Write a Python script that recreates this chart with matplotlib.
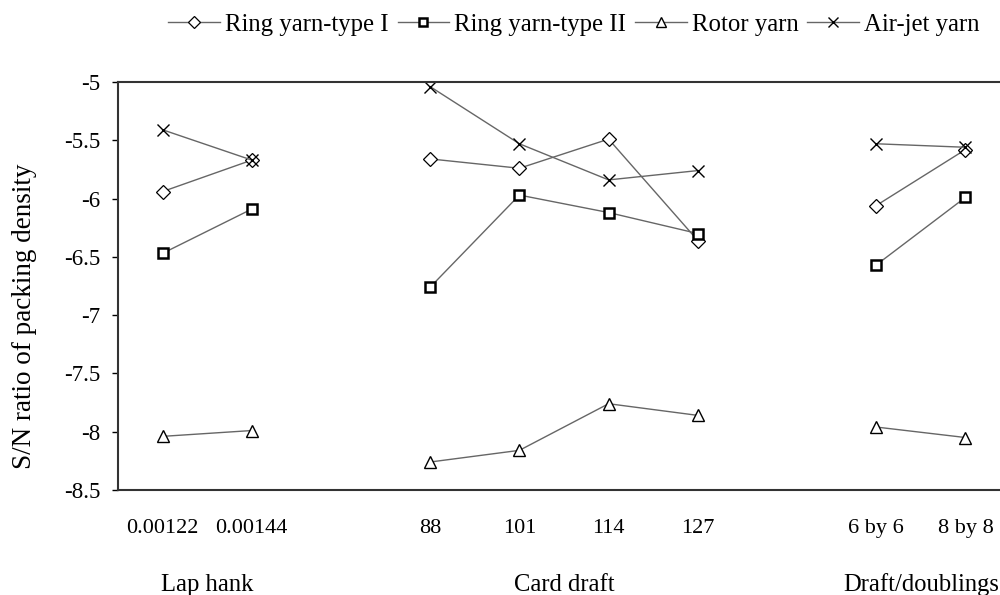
import matplotlib.pyplot as plt
from matplotlib.transforms import blended_transform_factory

plt.rcParams['font.family'] = ['Liberation Serif', 'DejaVu Serif']

# category labels, one list per factor
lap_hank = ['0.00122', '0.00144']
card_draft = ['88', '101', '114', '127']
doublings = ['6 by 6', '8 by 8']
groups = ['Lap hank', 'Card draft', 'Draft/doublings']

series_names = ['Ring yarn-type I', 'Ring yarn-type II', 'Rotor yarn', 'Air-jet yarn']

# S/N ratio of packing density, per factor level
ring1 = [[-5.94, -5.67], [-5.66, -5.74, -5.49, -6.36], [-6.06, -5.58]]
ring2 = [[-6.47, -6.09], [-6.76, -5.97, -6.12, -6.30], [-6.57, -5.99]]
rotor = [[-8.04, -7.99], [-8.26, -8.16, -7.76, -7.86], [-7.96, -8.05]]
airjet = [[-5.41, -5.67], [-5.04, -5.53, -5.84, -5.76], [-5.53, -5.56]]

# layout: category slot of each level (blank slots between factors)
group_pos = [[0, 1], [3, 4, 5, 6], [8, 9]]

markers = ['D', 's', '^', 'x']
msizes = [7.2, 6.5, 8, 9]
medge = [0.9, 1.8, 1.0, 1.0]

fig = plt.figure(figsize=(10, 5.95), dpi=100)
ax = fig.add_axes([0.118, 0.1765, 0.892, 0.6857])

for name, data, m, ms, mew in zip(series_names, [ring1, ring2, rotor, airjet], markers, msizes, medge):
    for k, (pos, vals) in enumerate(zip(group_pos, data)):
        ax.plot(pos, vals, color='#666666', lw=1.0, marker=m, ms=ms,
                mfc='white', mec='black', mew=mew,
                label=name if k == 0 else None)

ax.set_ylim(-8.5, -5)
ax.set_xlim(-0.5, 9.5)
ax.set_yticks([-5, -5.5, -6, -6.5, -7, -7.5, -8, -8.5])
ax.set_yticklabels(['-5', '-5.5', '-6', '-6.5', '-7', '-7.5', '-8', '-8.5'])
ax.tick_params(axis='y', labelsize=16.5, length=4.5, width=1, direction='out', pad=8)

all_pos = [p for g in group_pos for p in g]
all_labels = lap_hank + card_draft + doublings
ax.set_xticks(all_pos)
ax.set_xticklabels(all_labels)
ax.tick_params(axis='x', labelsize=16, length=0, pad=21)

trans = blended_transform_factory(ax.transData, fig.transFigure)
for g, pos in zip(groups, group_pos):
    ax.text(sum(pos) / len(pos), 0.006, g, ha='center', va='baseline',
            fontsize=17.7, transform=trans)

fig.text(0.025, 0.469, 'S/N ratio of packing density', rotation=90,
         ha='center', va='center', fontsize=19.5)

for s in ax.spines.values():
    s.set_linewidth(1.5)
    s.set_color('#333333')
ax.spines['right'].set_visible(False)

fig.legend(loc='center', bbox_to_anchor=(0.574, 0.958), ncol=4, frameon=False,
           fontsize=17.8, handlelength=2.1, handletextpad=0.2, columnspacing=0.35,
           borderpad=0, borderaxespad=0, markerscale=0.85)

fig.savefig('out.png', dpi=100)
